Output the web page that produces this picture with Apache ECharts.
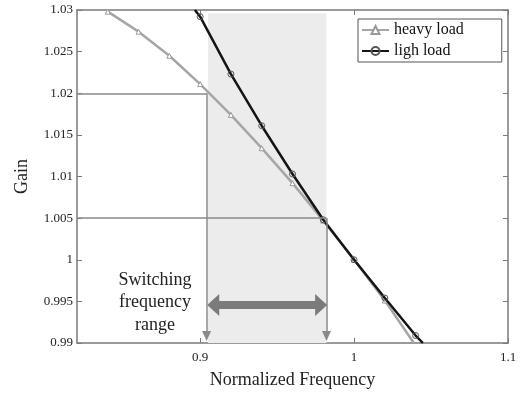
<!DOCTYPE html>
<html>
<head>
<meta charset="utf-8">
<title>Gain vs Normalized Frequency</title>
<script src="https://cdn.jsdelivr.net/npm/echarts@6/dist/echarts.min.js"></script>
<style>
  html, body { margin: 0; padding: 0; background: #fff; }
  #main { width: 523px; height: 394px; }
</style>
</head>
<body>
<div id="main"></div>
<script>
// values
var heavyX = [0.84, 0.86, 0.88, 0.90, 0.92, 0.94, 0.96, 0.98, 1.00, 1.02];
var heavyY = [1.0298, 1.0274, 1.0245, 1.0211, 1.0174, 1.0134, 1.0092, 1.0047, 1.0000, 0.9951];
var heavyEnd = [1.0388, 0.99];

var lightX = [0.90, 0.92, 0.94, 0.96, 0.98, 1.00, 1.02, 1.04];
var lightY = [1.0292, 1.0223, 1.0161, 1.0103, 1.0048, 1.0000, 0.9954, 0.9909];
var lightStart = [0.8966, 1.03];
var lightEnd = [1.0447, 0.99];

var xTicks = [0.9, 1, 1.1];
var rangeLow = 0.9042, rangeHigh = 0.9821;   // switching frequency range
var gainLow = 1.005, gainHigh = 1.02;

var serif = '"Liberation Serif", "DejaVu Serif", serif';
var frame = '#7a7a7a';

function pairs(xs, ys) {
  return xs.map(function (x, i) { return [x, ys[i]]; });
}
function bare(p) { return { value: p, symbol: 'none' }; }

var heavyData = pairs(heavyX, heavyY).concat([bare(heavyEnd)]);
var lightData = [bare(lightStart)].concat(pairs(lightX, lightY), [bare(lightEnd)]);

var myChart = echarts.init(document.getElementById('main'));

var option = {
  animation: false,
  grid: { left: 77, right: 15, top: 10, bottom: 51, outerBoundsMode: 'none' },
  legend: {
    orient: 'vertical',
    left: 358, top: 19,
    backgroundColor: '#fff',
    borderColor: '#555', borderWidth: 1,
    padding: [3, 38, 3, 3],
    itemWidth: 27, itemHeight: 10, itemGap: 5,
    textStyle: { fontFamily: serif, fontSize: 16, color: '#111' },
    data: ['heavy load', 'ligh load']
  },
  xAxis: [{
    type: 'value', min: 0.82, max: 1.1,
    name: 'Normalized Frequency', nameLocation: 'middle', nameGap: 28,
    nameTextStyle: { fontFamily: serif, fontSize: 18, color: '#222' },
    axisLine: { lineStyle: { color: frame, width: 1.5 } },
    axisTick: { inside: true, length: 5, customValues: xTicks, lineStyle: { color: frame } },
    axisLabel: { customValues: xTicks, fontFamily: serif, fontSize: 13, color: '#222', margin: 8 },
    splitLine: { show: false }
  }, {
    type: 'value', min: 0.82, max: 1.1, position: 'top',
    axisLine: { lineStyle: { color: frame, width: 1.5 } },
    axisTick: { inside: true, length: 5, customValues: xTicks, lineStyle: { color: frame } },
    axisLabel: { show: false },
    splitLine: { show: false }
  }],
  yAxis: [{
    type: 'value', min: 0.99, max: 1.03, interval: 0.005,
    name: 'Gain', nameLocation: 'middle', nameGap: 46,
    nameTextStyle: { fontFamily: serif, fontSize: 18, color: '#222' },
    axisLine: { show: true, lineStyle: { color: frame, width: 1.5 } },
    axisTick: { show: true, inside: true, length: 5, lineStyle: { color: frame } },
    axisLabel: {
      fontFamily: serif, fontSize: 13, color: '#222', margin: 4,
      formatter: function (v) { return String(+v.toFixed(3)); }
    },
    splitLine: { show: false }
  }, {
    type: 'value', min: 0.99, max: 1.03, interval: 0.005, position: 'right',
    axisLine: { show: true, lineStyle: { color: frame, width: 1.5 } },
    axisTick: { show: true, inside: true, length: 5, lineStyle: { color: frame } },
    axisLabel: { show: false },
    splitLine: { show: false }
  }],
  graphic: [{
    type: 'text', x: 155, y: 269, z: 20,
    style: {
      text: 'Switching\nfrequency\nrange',
      align: 'center', verticalAlign: 'top',
      fontFamily: serif, fontSize: 18, lineHeight: 22.5, fill: '#222'
    }
  }],
  series: [{
    // shaded range and guide lines
    type: 'line', data: [], z: 1, silent: true,
    markArea: {
      silent: true,
      itemStyle: { color: '#ececec' },
      data: [[{ coord: [0.9051, 1.0296] }, { coord: [0.982, 0.99] }]]
    },
    markLine: {
      silent: true,
      label: { show: false },
      lineStyle: { color: '#8a8a8a', width: 1.5, type: 'solid' },
      data: [
        [{ coord: [0.82, gainHigh], symbol: 'none' }, { coord: [rangeLow, gainHigh], symbol: 'none' }],
        [{ coord: [rangeLow, gainHigh], symbol: 'none' }, { coord: [rangeLow, 0.99084], symbol: 'triangle', symbolSize: [9, 10] }],
        [{ coord: [0.82, gainLow], symbol: 'none' }, { coord: [rangeHigh, gainLow], symbol: 'none' }],
        [{ coord: [rangeHigh, gainLow], symbol: 'none' }, { coord: [rangeHigh, 0.99084], symbol: 'triangle', symbolSize: [9, 10] }],
        [
          { coord: [0.9085, 0.99457], symbol: 'triangle', symbolSize: [22, 12],
            lineStyle: { color: '#7b7b7b', width: 8 }, itemStyle: { color: '#7b7b7b' } },
          { coord: [0.9786, 0.99457], symbol: 'triangle', symbolSize: [22, 12],
            itemStyle: { color: '#7b7b7b' } }
        ]
      ]
    }
  }, {
    name: 'heavy load', type: 'line', z: 3,
    data: heavyData,
    symbol: 'triangle', symbolSize: 5, showAllSymbol: true,
    lineStyle: { color: '#a6a6a6', width: 2.5 },
    itemStyle: { color: '#fff', borderColor: '#999', borderWidth: 1 },
    color: '#a6a6a6'
  }, {
    name: 'ligh load', type: 'line', z: 4,
    data: lightData,
    symbol: 'circle', symbolSize: 6, showAllSymbol: true,
    lineStyle: { color: '#151515', width: 2.5 },
    itemStyle: { color: 'transparent', borderColor: '#555', borderWidth: 1 },
    color: '#151515'
  }]
};

myChart.setOption(option);
</script>
</body>
</html>
